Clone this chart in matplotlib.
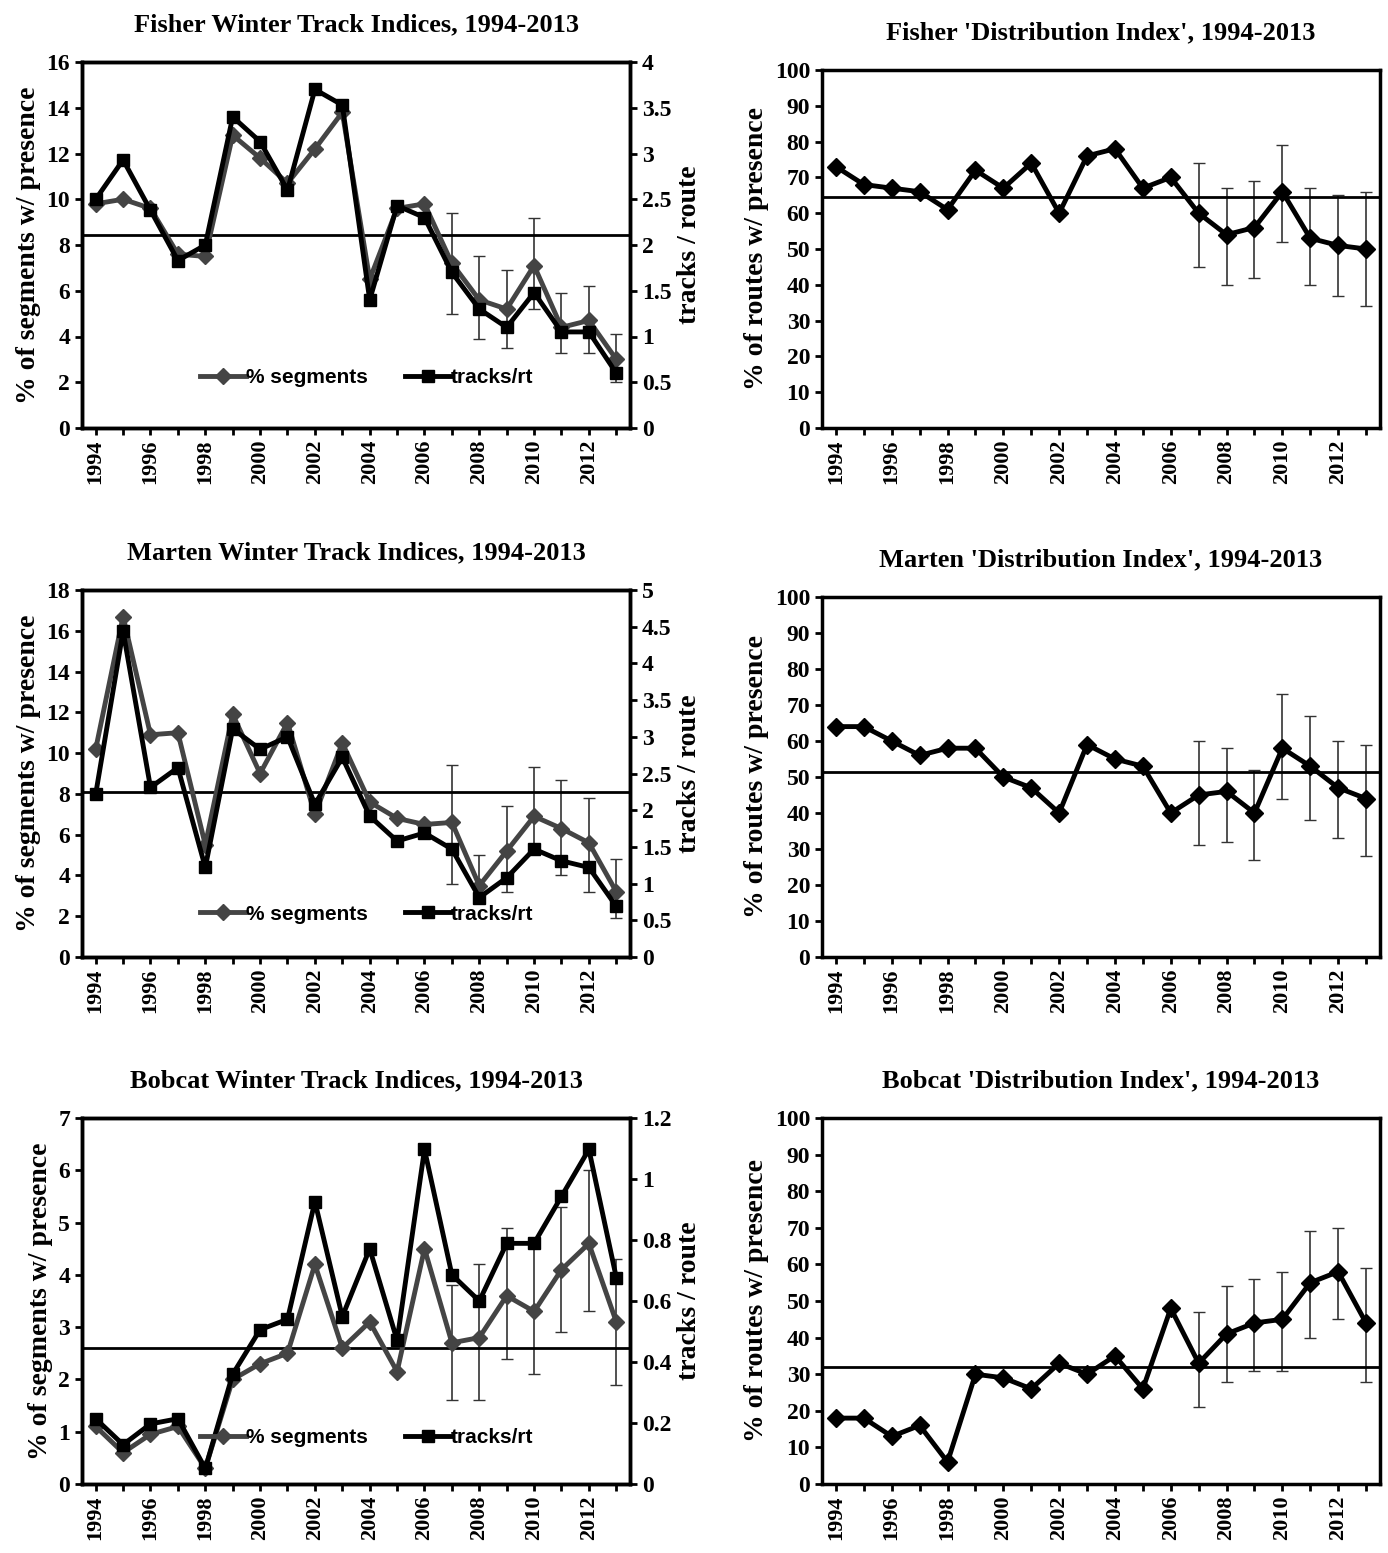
import numpy as np
import matplotlib.pyplot as plt

years = np.arange(1994, 2014)
err_years = np.arange(2007, 2014)

# Fisher
fisher_seg = [9.8, 10.0, 9.6, 7.6, 7.5, 12.8, 11.8, 10.7, 12.2, 13.8, 6.5, 9.6, 9.8, 7.2, 5.6, 5.2, 7.1, 4.4, 4.7, 3.0]
fisher_seg_lo = [5.0, 3.9, 3.5, 5.2, 3.3, 3.3, 2.0]
fisher_seg_hi = [9.4, 7.5, 6.9, 9.2, 5.9, 6.2, 4.1]
fisher_trk = [2.5, 2.93, 2.38, 1.83, 2.0, 3.4, 3.13, 2.6, 3.7, 3.53, 1.4, 2.43, 2.3, 1.7, 1.3, 1.1, 1.48, 1.05, 1.05, 0.6]
fisher_mean = 8.45
fisher_dist = [73, 68, 67, 66, 61, 72, 67, 74, 60, 76, 78, 67, 70, 60, 54, 56, 66, 53, 51, 50]
fisher_dist_lo = [45, 40, 42, 52, 40, 37, 34]
fisher_dist_hi = [74, 67, 69, 79, 67, 65, 66]
fisher_dist_mean = 64.5

# Marten
marten_seg = [10.2, 16.7, 10.9, 11.0, 5.5, 11.9, 9.0, 11.5, 7.0, 10.5, 7.6, 6.8, 6.5, 6.6, 3.5, 5.2, 6.9, 6.3, 5.6, 3.2]
marten_seg_lo = [3.6, 2.8, 3.2, 5.1, 4.0, 3.2, 1.9]
marten_seg_hi = [9.4, 5.0, 7.4, 9.3, 8.7, 7.8, 4.8]
marten_trk = [2.22, 4.44, 2.31, 2.58, 1.22, 3.11, 2.83, 3.0, 2.08, 2.72, 1.92, 1.58, 1.69, 1.47, 0.81, 1.08, 1.47, 1.31, 1.22, 0.69]
marten_mean = 8.1
marten_dist = [64, 64, 60, 56, 58, 58, 50, 47, 40, 59, 55, 53, 40, 45, 46, 40, 58, 53, 47, 44]
marten_dist_lo = [31, 32, 27, 44, 38, 33, 28]
marten_dist_hi = [60, 58, 52, 73, 67, 60, 59]
marten_dist_mean = 51.5

# Bobcat
bobcat_seg = [1.1, 0.6, 0.95, 1.1, 0.3, 2.0, 2.3, 2.5, 4.2, 2.6, 3.1, 2.15, 4.5, 2.7, 2.8, 3.6, 3.3, 4.1, 4.6, 3.1]
bobcat_seg_lo = [1.6, 1.6, 2.4, 2.1, 2.9, 3.3, 1.9]
bobcat_seg_hi = [3.8, 4.2, 4.9, 4.6, 5.3, 6.0, 4.3]
bobcat_trk = [0.214, 0.129, 0.197, 0.214, 0.051, 0.36, 0.506, 0.54, 0.926, 0.549, 0.771, 0.471, 1.097, 0.686, 0.6, 0.789, 0.789, 0.943, 1.097, 0.677]
bobcat_mean = 2.6
bobcat_dist = [18, 18, 13, 16, 6, 30, 29, 26, 33, 30, 35, 26, 48, 33, 41, 44, 45, 55, 58, 44]
bobcat_dist_lo = [21, 28, 31, 31, 40, 45, 28]
bobcat_dist_hi = [47, 54, 56, 58, 69, 70, 59]
bobcat_dist_mean = 32

serif = 'Liberation Serif'
sans = 'Liberation Sans'
grey = '#444444'

fig = plt.figure(figsize=(13.88, 15.53), dpi=100)
W, H = 1388, 1553


def box(x0, y0, x1, y1):
    return [x0 / W, 1 - y1 / H, (x1 - x0) / W, (y1 - y0) / H]


def style_x(ax):
    ax.set_xlim(1993.5, 2013.5)
    ax.set_xticks(np.arange(1994, 2014, 2))
    ax.set_xticks(years, minor=True)
    ax.set_xticklabels([str(y) for y in range(1994, 2014, 2)], rotation=90,
                       fontfamily=serif, fontweight='bold', fontsize=16)
    for s in ax.spines.values():
        s.set_linewidth(2.5)
    ax.tick_params(width=2, length=5, direction='out')
    ax.tick_params(which='minor', width=2, length=5, direction='out')


def bold_yticks(ax, fs=17):
    for t in ax.get_yticklabels():
        t.set_fontfamily(serif)
        t.set_fontweight('bold')
        t.set_fontsize(fs)


def left_panel(rect, title, seg, lo, hi, trk, mean, ymax, ystep, rmax, rstep, legy):
    ax = fig.add_axes(rect)
    seg = np.array(seg)
    idx = err_years - 1994
    ax.errorbar(err_years, seg[idx], yerr=[seg[idx] - np.array(lo), np.array(hi) - seg[idx]],
                fmt='none', ecolor='#333333', elinewidth=1.2, capsize=4)
    ax.plot(years, seg, color=grey, lw=3.5, marker='D', ms=8, label='% segments', zorder=3)
    ax.axhline(mean, color='black', lw=2)
    ax.set_ylim(0, ymax)
    ax.set_yticks(np.arange(0, ymax + 0.01, ystep))
    ax.set_ylabel('% of segments w/ presence', fontfamily=serif, fontweight='bold', fontsize=20)
    style_x(ax)
    bold_yticks(ax)
    ax2 = ax.twinx()
    ax2.plot(years, trk, color='black', lw=3.5, marker='s', ms=9, label='tracks/rt', zorder=4)
    ax2.set_ylim(0, rmax)
    ax2.set_yticks(np.round(np.arange(0, rmax + 0.001, rstep), 2))
    ax2.set_yticklabels([('%g' % v) for v in np.round(np.arange(0, rmax + 0.001, rstep), 2)])
    ax2.set_ylabel('tracks / route', fontfamily=serif, fontweight='bold', fontsize=20)
    bold_yticks(ax2)
    for s in ax2.spines.values():
        s.set_linewidth(2.5)
    ax2.tick_params(width=2, length=5)
    h1, l1 = ax.get_legend_handles_labels()
    h2, l2 = ax2.get_legend_handles_labels()
    ax2.legend(h1 + h2, l1 + l2, loc='lower center', bbox_to_anchor=(0.52, legy), ncol=2,
               frameon=False, prop={'family': sans, 'weight': 'bold', 'size': 15},
               handlelength=2.2, handletextpad=0.0, columnspacing=1.8)
    ax.set_title(title, fontfamily=serif, fontweight='bold', fontsize=19, pad=22)


def right_panel(rect, title, vals, lo, hi, mean):
    ax = fig.add_axes(rect)
    vals = np.array(vals)
    idx = err_years - 1994
    ax.errorbar(err_years, vals[idx], yerr=[vals[idx] - np.array(lo), np.array(hi) - vals[idx]],
                fmt='none', ecolor='#333333', elinewidth=1.2, capsize=4)
    ax.plot(years, vals, color='black', lw=3.5, marker='D', ms=9, zorder=3)
    ax.axhline(mean, color='black', lw=2)
    ax.set_ylim(0, 100)
    ax.set_yticks(np.arange(0, 101, 10))
    ax.set_ylabel('% of routes w/ presence', fontfamily=serif, fontweight='bold', fontsize=20)
    style_x(ax)
    bold_yticks(ax)
    ax.set_title(title, fontfamily=serif, fontweight='bold', fontsize=19, pad=22)


left_panel(box(82, 62, 630, 428), 'Fisher Winter Track Indices, 1994-2013',
           fisher_seg, fisher_seg_lo, fisher_seg_hi, fisher_trk, fisher_mean, 16, 2, 4, 0.5, 0.06)
right_panel(box(822, 70, 1380, 428), "Fisher 'Distribution Index', 1994-2013",
            fisher_dist, fisher_dist_lo, fisher_dist_hi, fisher_dist_mean)
left_panel(box(82, 590, 630, 957), 'Marten Winter Track Indices, 1994-2013',
           marten_seg, marten_seg_lo, marten_seg_hi, marten_trk, marten_mean, 18, 2, 5, 0.5, 0.04)
right_panel(box(822, 597, 1380, 957), "Marten 'Distribution Index', 1994-2013",
            marten_dist, marten_dist_lo, marten_dist_hi, marten_dist_mean)
left_panel(box(82, 1118, 630, 1484), 'Bobcat Winter Track Indices, 1994-2013',
           bobcat_seg, bobcat_seg_lo, bobcat_seg_hi, bobcat_trk, bobcat_mean, 7, 1, 1.2, 0.2, 0.05)
right_panel(box(822, 1118, 1380, 1484), "Bobcat 'Distribution Index', 1994-2013",
            bobcat_dist, bobcat_dist_lo, bobcat_dist_hi, bobcat_dist_mean)

fig.savefig('out.png', dpi=100)
